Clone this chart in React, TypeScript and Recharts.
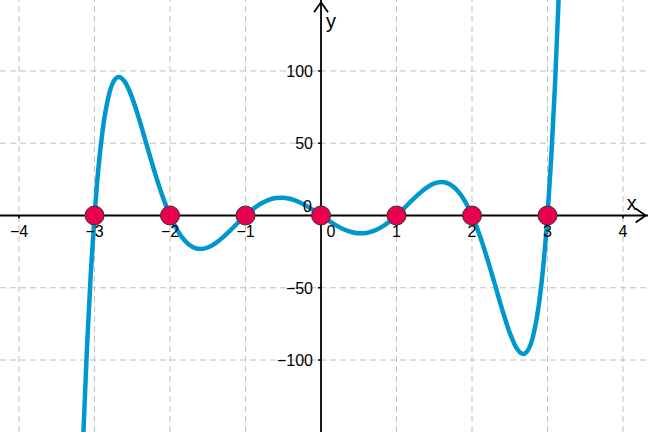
import React from 'react';
import { ComposedChart, Line, Scatter, XAxis, YAxis, ReferenceLine, ReferenceDot } from 'recharts';

// Curve samples
const curveX = [
  -3.2, -3.15, -3.1, -3.05, -3, -2.95, -2.9, -2.8, -2.7, -2.68, -2.6, -2.5, -2.4, -2.3, -2.2, -2.1,
  -2, -1.9, -1.8, -1.7, -1.6, -1.5, -1.4, -1.3, -1.2, -1.1, -1, -0.9, -0.8, -0.7, -0.6, -0.53, -0.5,
  -0.4, -0.3, -0.2, -0.1, 0, 0.1, 0.2, 0.3, 0.4, 0.5, 0.53, 0.6, 0.7, 0.8, 0.9, 1, 1.1, 1.2, 1.3,
  1.4, 1.5, 1.6, 1.7, 1.8, 1.9, 2, 2.1, 2.2, 2.3, 2.4, 2.5, 2.6, 2.68, 2.7, 2.8, 2.9, 2.95, 3,
  3.05, 3.1, 3.15, 3.2,
];
const curveY = [
  -228.8, -153.6, -91.34, -40.62, 0, 31.79, 55.91, 85.31, 95.55, 95.84, 92.59, 81.21, 65.14, 47.22,
  29.52, 13.48, 0, -10.42, -17.65, -21.79, -23.15, -22.15, -19.3, -15.15, -10.22, -5.02, 0, 4.47,
  8.09, 10.66, 12.08, 12.36, 12.3, 11.41, 9.51, 6.81, 3.55, 0, -3.55, -6.81, -9.51, -11.41, -12.3,
  -12.36, -12.08, -10.66, -8.09, -4.47, 0, 5.02, 10.22, 15.15, 19.3, 22.15, 23.15, 21.79, 17.65,
  10.42, 0, -13.48, -29.52, -47.22, -65.14, -81.21, -92.59, -95.84, -95.55, -85.31, -55.91, -31.79,
  0, 40.62, 91.34, 153.6, 228.8,
];
const rootsX = [-3, -2, -1, 0, 1, 2, 3];
const xTicks = [-4, -3, -2, -1, 1, 2, 3, 4];
const yTicks = [-100, -50, 50, 100];

const X_MIN = -4.252;
const X_MAX = 4.331;
const Y_MIN = -149.8;
const Y_MAX = 149.1;

const curveData = curveX.map((x, i) => ({ x, y: curveY[i] }));
const rootData = rootsX.map((x) => ({ x, y: 0 }));

const FONT = 'Liberation Sans, Arial, sans-serif';
const fmt = (v: number) => (v < 0 ? `\u2212${-v}` : `${v}`);

const xTickShape = (t: number) => (p: any) => (
  <g>
    <line x1={p.cx} x2={p.cx} y1={p.cy} y2={p.cy + 3} stroke="#000" strokeWidth={1.5} />
    <text x={p.cx} y={p.cy + 22} textAnchor="middle" fontSize={16} fontFamily={FONT} fill="#000">
      {fmt(t)}
    </text>
  </g>
);

const yTickShape = (t: number) => (p: any) => (
  <g>
    <line x1={p.cx - 3} x2={p.cx} y1={p.cy} y2={p.cy} stroke="#000" strokeWidth={1.5} />
    <text x={p.cx - 8} y={p.cy + 6} textAnchor="end" fontSize={16} fontFamily={FONT} fill="#000">
      {fmt(t)}
    </text>
  </g>
);

const originShape = (p: any) => (
  <g>
    <text x={p.cx - 9} y={p.cy - 3} textAnchor="end" fontSize={16} fontFamily={FONT} fill="#000">0</text>
    <text x={p.cx + 10} y={p.cy + 22} textAnchor="middle" fontSize={16} fontFamily={FONT} fill="#000">0</text>
  </g>
);

const xArrow = (p: any) => (
  <g>
    <polyline
      points={`${p.cx - 10},${p.cy - 7} ${p.cx},${p.cy} ${p.cx - 10},${p.cy + 7}`}
      fill="none" stroke="#000" strokeWidth={1.8}
    />
    <text x={p.cx - 14} y={p.cy - 5} textAnchor="middle" fontSize={20} fontFamily={FONT} fill="#000">x</text>
  </g>
);

const yArrow = (p: any) => (
  <g>
    <polyline
      points={`${p.cx - 7},${p.cy + 10} ${p.cx},${p.cy} ${p.cx + 7},${p.cy + 10}`}
      fill="none" stroke="#000" strokeWidth={1.8}
    />
    <text x={p.cx + 10} y={p.cy + 26} textAnchor="middle" fontSize={20} fontFamily={FONT} fill="#000">y</text>
  </g>
);

const rootShape = (p: any) => (
  <circle cx={p.cx} cy={p.cy} r={9.5} fill="#EA004E" stroke="#333" strokeWidth={1} />
);

export default function App() {
  return (
    <div style={{ position: 'absolute', left: 0, top: 0, width: 648, height: 432, background: '#fff' }}>
      <ComposedChart width={648} height={432} margin={{ top: 0, right: 0, bottom: 0, left: 0 }}>
        <XAxis type="number" dataKey="x" domain={[X_MIN, X_MAX]} allowDataOverflow hide />
        <YAxis type="number" dataKey="y" domain={[Y_MIN, Y_MAX]} allowDataOverflow hide />
        {xTicks.map((t) => (
          <ReferenceLine key={`gx${t}`} x={t} stroke="#c0c0c0" strokeDasharray="6 4" strokeWidth={1} />
        ))}
        {yTicks.map((t) => (
          <ReferenceLine key={`gy${t}`} y={t} stroke="#c0c0c0" strokeDasharray="6 4" strokeWidth={1} />
        ))}
        <ReferenceLine y={0} stroke="#000" strokeWidth={1.8} />
        <ReferenceLine x={0} stroke="#000" strokeWidth={1.8} />
        {xTicks.map((t) => (
          <ReferenceDot key={`tx${t}`} x={t} y={0} r={1} shape={xTickShape(t)} />
        ))}
        {yTicks.map((t) => (
          <ReferenceDot key={`ty${t}`} x={0} y={t} r={1} shape={yTickShape(t)} />
        ))}
        <ReferenceDot x={0} y={0} r={1} shape={originShape} />
        <ReferenceDot x={4.3} y={0} r={1} shape={xArrow} />
        <ReferenceDot x={0} y={147.5} r={1} shape={yArrow} />
        <Line
          data={curveData}
          dataKey="y"
          type="monotone"
          stroke="#0097CE"
          strokeWidth={4.5}
          dot={false}
          activeDot={false}
          isAnimationActive={false}
        />
        <Scatter data={rootData} dataKey="y" shape={rootShape} isAnimationActive={false} />
      </ComposedChart>
    </div>
  );
}
